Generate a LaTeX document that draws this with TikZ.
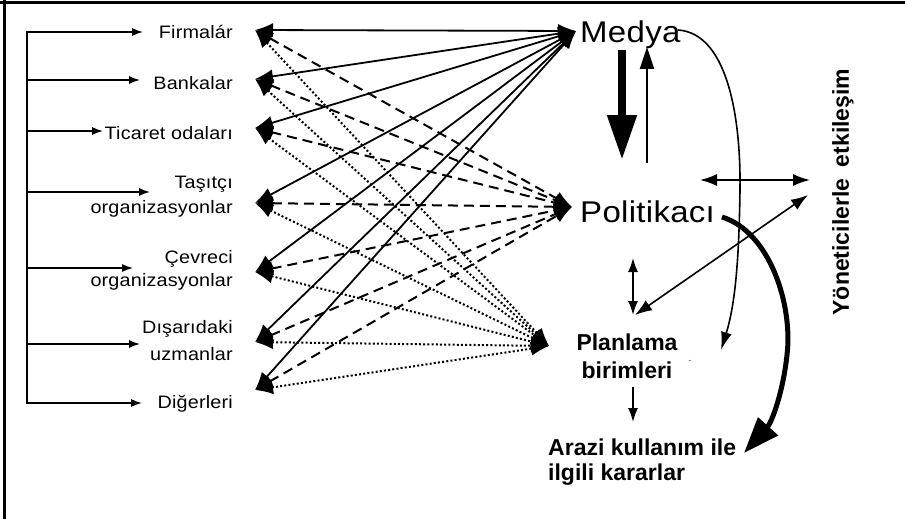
\documentclass[tikz,border=0pt]{standalone}
\usepackage{fontspec}
\setmainfont{Liberation Sans}
\newfontfamily\lsf[FakeStretch=1.1,LetterSpace=1]{Liberation Sans}
\usetikzlibrary{arrows.meta}
\begin{document}
\begin{tikzpicture}[x=1pt,y=-1pt,
  lab/.style={font=\lsf\fontsize{18}{20}\selectfont, inner sep=0pt, anchor=base east},
  big/.style={font=\lsf\fontsize{30}{34}\selectfont, inner sep=0pt, anchor=base west},
  bld/.style={font=\bfseries\fontsize{23}{26}\selectfont, inner sep=0pt},
  feed/.style={line width=1.3pt, -{Latex[length=11pt,width=8pt]}},
  hd/.style={{Latex[length=18pt,width=14pt]}-{Latex[length=18pt,width=14pt]}},
  solidc/.style={hd, line width=1.8pt},
  dashc/.style={hd, line width=2pt, dash pattern=on 10pt off 6pt},
  dotc/.style={hd, line width=2pt, dash pattern=on 2pt off 2.2pt},
  thinarr/.style={line width=1.6pt, {Latex[length=17pt,width=12pt]}-{Latex[length=17pt,width=12pt]}},
]
\useasboundingbox (0,0) rectangle (905,519);
\fill[white] (0,0) rectangle (905,519);
% frame
\coordinate (f0) at (0,3); \coordinate (f1) at (905,3);
\coordinate (g0) at (4.5,0); \coordinate (g1) at (4.5,519);
\draw[line width=3pt] (f0) -- (f1);
\draw[line width=3pt] (g0) -- (g1);

% left labels
\node[lab] (n1) at (233,39) {Firmalár};
\node[lab] (n2) at (233,89) {Bankalar};
\node[lab] (n3) at (233,139) {Ticaret odaları};
\node[lab] (n4a) at (233,188) {Taşıtçı};
\node[lab] (n4b) at (233,213) {organizasyonlar};
\node[lab] (n5a) at (233,263) {Çevreci};
\node[lab] (n5b) at (233,286) {organizasyonlar};
\node[lab] (n6a) at (233,333) {Dışarıdaki};
\node[lab] (n6b) at (233,360) {uzmanlar};
\node[lab] (n7) at (233,408) {Diğerleri};

% bracket
\coordinate (bt) at (27,31.35);
\coordinate (bb) at (27,403.65);
\draw[line width=1.3pt] (bt) -- (bb);
\foreach \i/\yy/\xx in {1/32/143, 2/80/140, 3/131/103, 4/192/150, 5/268/133, 6/344/140, 7/403/142}{
  \coordinate (r\i) at (27,\yy);
  \coordinate (a\i) at (\xx,\yy);
  \draw[feed] (r\i) -- (a\i);
}

% hubs and left tips
\coordinate (M) at (576,31);
\coordinate (P) at (572,207);
\coordinate (Q) at (549,346);
\coordinate (L1) at (255,30);
\coordinate (L2) at (255,79);
\coordinate (L3) at (255,128);
\coordinate (L4) at (255,203);
\coordinate (L5) at (255,272);
\coordinate (L6) at (255,342);
\coordinate (L7) at (255,390);
\foreach \i in {1,...,7}{
  \draw[dotc] (L\i) -- (Q);
  \draw[dashc] (L\i) -- (P);
  \draw[solidc] (L\i) -- (M);
}

% right labels
\node[big] (med) at (580,43) {Medya};
\node[big] (pol) at (580,222) {Politikacı};
\node[bld, anchor=base] (pl1) at (627,350) {Planlama};
\node[bld, anchor=base] (pl2) at (627,378) {birimleri};
\node[font=\fontsize{10}{10}\selectfont, text=black!60, inner sep=0pt] (dsh) at (690,362) {-};
\node[bld, anchor=base west] (ar1) at (548,455) {Arazi kullanım ile};
\node[bld, anchor=base west] (ar2) at (548,480) {ilgili kararlar};
\node[font=\bfseries\fontsize{23}{26}\selectfont, rotate=90, inner sep=0pt] (yon) at (843,192) {Yöneticilerle\hspace{0.5em}etkileşim};

% Medya <-> Politikaci
\coordinate (md1) at (622,50); \coordinate (md2) at (622,160);
\draw[line width=8pt, -{Triangle[length=45pt,width=28pt]}] (md1) -- (md2);
\coordinate (mu1) at (647,163); \coordinate (mu2) at (647,47);
\draw[line width=2pt, -{Triangle[length=22pt,width=14pt]}] (mu1) -- (mu2);

% thin curve from Medya
\coordinate (cm0) at (678,30);
\coordinate (cm1) at (740,190);
\coordinate (cm2) at (721,350);
\draw[line width=1.6pt, -{Latex[length=18pt,width=11pt]}] (cm0) .. controls (725,33) and (741,110) .. (cm1) .. controls (739,262) and (735,305) .. (cm2);

% interaction arrows
\coordinate (h1) at (700,180); \coordinate (h2) at (810,180);
\draw[thinarr] (h1) -- (h2);
\coordinate (d1) at (808,195); \coordinate (d2) at (635,315);
\draw[thinarr] (d1) -- (d2);
\coordinate (v1) at (633,258); \coordinate (v2) at (633,315);
\draw[line width=1.6pt, {Latex[length=14pt,width=10pt]}-{Latex[length=14pt,width=10pt]}] (v1) -- (v2);
\coordinate (w1) at (633,387); \coordinate (w2) at (633,422);
\draw[line width=1.6pt, -{Latex[length=14pt,width=10pt]}] (w1) -- (w2);

% thick curve from Politikaci
\coordinate (tc0) at (722,217);
\coordinate (tc1) at (787,355);
\coordinate (tc2) at (744,453);
\draw[line width=5pt, -{Triangle[length=36pt,width=26pt]}] (tc0) .. controls (770,232) and (793,305) .. (tc1) .. controls (783,392) and (772,422) .. (tc2);
\end{tikzpicture}
\end{document}
